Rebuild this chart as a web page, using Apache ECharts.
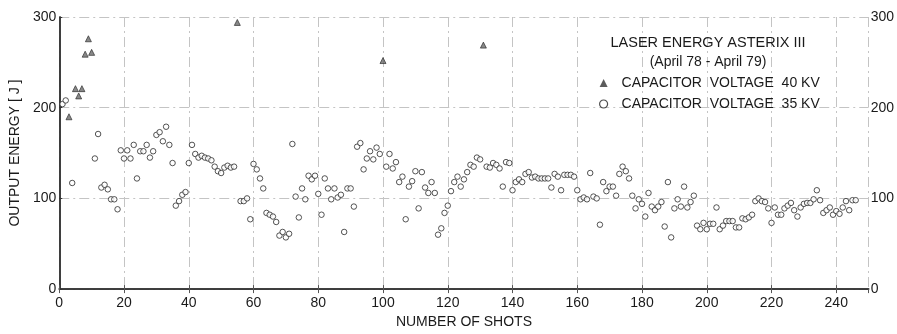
<!DOCTYPE html>
<html>
<head>
<meta charset="utf-8">
<script src="https://cdn.jsdelivr.net/npm/echarts@6/dist/echarts.min.js"></script>
<style>
html,body{margin:0;padding:0;background:#fff;}
#chart{width:897px;height:334px;}
</style>
</head>
<body>
<div id="chart"></div>
<script>
// ---- data ----
const titleText = 'LASER ENERGY ASTERIX III';
const subtitleText = '(April 78 - April 79)';
const seriesNames = ['CAPACITOR  VOLTAGE  40 KV', 'CAPACITOR  VOLTAGE  35 KV'];
const xAxisTitle = 'NUMBER OF SHOTS';
const yAxisTitle = 'OUTPUT ENERGY [ J ]';

const shots40 = [3, 5, 6, 7, 8, 9, 10, 55, 100, 131];
const energy40 = [190, 221, 213, 221, 259, 276, 261, 294, 252, 269];

const shots35 = [
  1, 2, 4, 11, 12, 13, 14, 15, 16, 17, 18, 19, 20, 21, 22, 23, 24, 25, 26, 27, 28, 29, 30,
  31, 32, 33, 34, 35, 36, 37, 38, 39, 40, 41, 42, 43, 44, 45, 46, 47, 48, 49, 50, 51, 52, 53, 54,
  56, 57, 58, 59, 60, 61, 62, 63, 64, 65, 66, 67, 68, 69, 70, 71, 72, 73, 74, 75, 76, 77, 78, 79,
  80, 81, 82, 83, 84, 85, 86, 87, 88, 89, 90, 91, 92, 93, 94, 95, 96, 97, 98, 99,
  101, 102, 103, 104, 105, 106, 107, 108, 109, 110, 111, 112, 113, 114, 115, 116, 117, 118, 119, 120,
  121, 122, 123, 124, 125, 126, 127, 128, 129, 130,
  132, 133, 134, 135, 136, 137, 138, 139, 140, 141, 142, 143, 144, 145, 146, 147, 148, 149, 150,
  151, 152, 153, 154, 155, 156, 157, 158, 159, 160, 161, 162, 163, 164, 165, 166, 167, 168, 169, 170,
  171, 172, 173, 174, 175, 176, 177, 178, 179, 180, 181, 182, 183, 184, 185, 186, 187, 188, 189, 190,
  191, 192, 193, 194, 195, 196, 197, 198, 199, 200, 201, 202, 203, 204, 205, 206, 207, 208, 209, 210,
  211, 212, 213, 214, 215, 216, 217, 218, 219, 220, 221, 222, 223, 224, 225, 226, 227, 228, 229, 230,
  231, 232, 233, 234, 235, 236, 237, 238, 239, 240, 241, 242, 243, 244, 245, 246
];
const energy35 = [
  204, 208, 117, 144, 171, 112, 115, 110, 99, 99, 88, 153, 144, 153, 144, 159, 122, 152, 152, 159, 145, 152, 170,
  173, 163, 179, 159, 139, 92, 97, 104, 107, 139, 159, 149, 145, 147, 145, 144, 142, 135, 130, 128, 134, 136, 134, 135,
  97, 97, 100, 77, 138, 132, 122, 111, 84, 82, 80, 74, 59, 63, 57, 61, 160, 102, 79, 111, 99, 125, 121, 125,
  105, 82, 122, 111, 99, 111, 101, 104, 63, 111, 111, 91, 157, 161, 132, 144, 152, 143, 156, 149,
  135, 149, 133, 140, 118, 124, 77, 113, 119, 130, 89, 129, 112, 106, 118, 106, 60, 67, 84, 92,
  108, 118, 124, 113, 121, 129, 137, 135, 145, 143,
  135, 134, 139, 137, 133, 113, 140, 139, 109, 118, 121, 118, 127, 129, 123, 124, 122, 122, 122,
  122, 112, 127, 124, 109, 126, 126, 126, 124, 109, 99, 101, 99, 128, 102, 100, 71, 118, 108, 113,
  113, 103, 127, 135, 130, 122, 103, 89, 99, 94, 80, 106, 91, 87, 91, 96, 69, 118, 57, 89,
  99, 91, 113, 90, 96, 103, 70, 66, 73, 66, 72, 72, 90, 66, 70, 75, 75, 75, 68, 68,
  78, 77, 79, 82, 97, 100, 97, 96, 89, 73, 90, 82, 82, 89, 92, 95, 87, 80, 90, 94,
  95, 95, 99, 109, 98, 84, 87, 90, 82, 86, 83, 90, 97, 87, 98, 98
];

const xMin = 0, xMax = 250, xStep = 20, xLastLabel = 240;
const yMin = 0, yMax = 300, yStep = 100;

// ---- chart ----
const FONT = "'Liberation Sans', Arial, sans-serif";
const INK = '#1a1a1a';
const gridDash = { color: '#c4c4c4', width: 1, type: [10, 4, 2, 4] };

const toPairs = (xs, ys) => xs.map((x, i) => [x, ys[i]]);

const chart = echarts.init(document.getElementById('chart'), null, { renderer: 'canvas' });
chart.setOption({
  animation: false,
  backgroundColor: '#fff',
  textStyle: { fontFamily: FONT, color: INK },
  grid: { left: 53, right: 26, top: 17, bottom: 39, containLabel: false },
  title: {
    text: titleText,
    subtext: subtitleText,
    left: 708,
    top: 35,
    textAlign: 'center',
    itemGap: 5,
    padding: 0,
    textStyle: { fontFamily: FONT, fontSize: 14.5, fontWeight: 'normal', color: INK },
    subtextStyle: { fontFamily: FONT, fontSize: 14, color: INK }
  },
  legend: {
    orient: 'vertical',
    left: 599,
    top: 76,
    padding: 0,
    itemGap: 7,
    itemWidth: 8,
    itemHeight: 8,
    textStyle: { fontFamily: FONT, fontSize: 14, color: INK, padding: [0, 0, 0, 9] },
    data: [
      { name: seriesNames[0], icon: 'triangle', itemStyle: { color: '#333', borderColor: '#222', borderWidth: 0 } },
      { name: seriesNames[1], icon: 'circle', itemStyle: { color: '#fff', borderColor: '#222', borderWidth: 1.2 } }
    ]
  },
  xAxis: [
    {
      type: 'value', min: xMin, max: xMax, interval: xStep, position: 'bottom',
      name: xAxisTitle, nameLocation: 'middle', nameGap: 25,
      nameTextStyle: { fontFamily: FONT, fontSize: 14, color: INK },
      axisLine: { show: true, lineStyle: { color: '#333', width: 1.5 } },
      axisTick: { show: true, inside: true, length: 4, lineStyle: { color: '#555' } },
      axisLabel: {
        margin: 7, fontFamily: FONT, fontSize: 14, color: INK, showMaxLabel: false,
        formatter: v => (v > xLastLabel ? '' : String(v))
      },
      splitLine: { show: true, lineStyle: gridDash }
    },
    {
      type: 'value', min: xMin, max: xMax, interval: xStep, position: 'top',
      axisLine: { show: true, lineStyle: { color: '#333', width: 1.5 } },
      axisTick: { show: true, inside: true, length: 4, lineStyle: { color: '#555' } },
      axisLabel: { show: false },
      splitLine: { show: false }
    }
  ],
  yAxis: [
    {
      type: 'value', min: yMin, max: yMax, interval: yStep, position: 'left',
      name: yAxisTitle, nameLocation: 'middle', nameGap: 31, nameRotate: 90,
      nameTextStyle: { fontFamily: FONT, fontSize: 14, color: INK },
      axisLine: { show: true, lineStyle: { color: '#333', width: 1.5 } },
      axisTick: { show: false },
      axisLabel: { margin: 3, fontFamily: FONT, fontSize: 14, color: INK },
      splitLine: { show: true, lineStyle: gridDash }
    },
    {
      type: 'value', min: yMin, max: yMax, interval: yStep, position: 'right',
      axisLine: { show: true, lineStyle: { color: '#333', width: 1.5 } },
      axisTick: { show: true, inside: false, length: 3, lineStyle: { color: '#333' } },
      axisLabel: { margin: 2, fontFamily: FONT, fontSize: 14, color: INK },
      splitLine: { show: false }
    }
  ],
  series: [
    {
      name: seriesNames[0], type: 'scatter', xAxisIndex: 0, yAxisIndex: 0,
      symbol: 'triangle', symbolSize: 6,
      itemStyle: { color: '#6a6a6a', borderColor: '#222', borderWidth: 0.8 },
      data: toPairs(shots40, energy40), z: 3
    },
    {
      name: seriesNames[1], type: 'scatter', xAxisIndex: 0, yAxisIndex: 0,
      symbol: 'circle', symbolSize: 5.5,
      itemStyle: { color: '#fff', borderColor: '#2a2a2a', borderWidth: 1 },
      data: toPairs(shots35, energy35), z: 3
    }
  ]
});
</script>
</body>
</html>
